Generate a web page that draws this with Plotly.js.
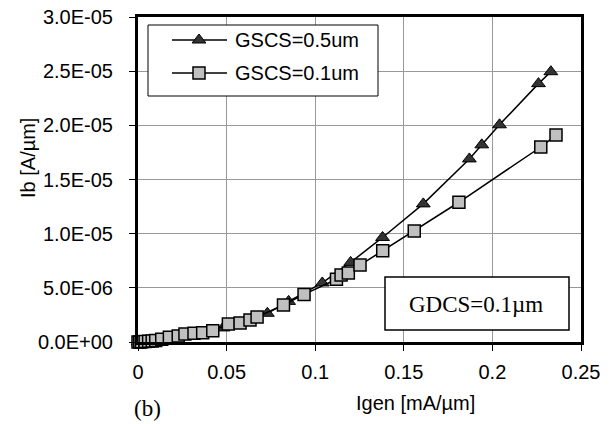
<!DOCTYPE html>
<html>
<head>
<meta charset="utf-8">
<script src="https://cdn.plot.ly/plotly-3.0.1.min.js"></script>
<style>html,body{margin:0;padding:0;background:#fff;}#chart{width:616px;height:424px;}</style>
</head>
<body>
<div id="chart"></div>
<script>
// ---- data ----
var seriesNames = ["GSCS=0.5um", "GSCS=0.1um"];
var triX = [0, 0.002, 0.004, 0.006, 0.008, 0.010, 0.013, 0.018, 0.023, 0.028, 0.034, 0.041, 0.048, 0.056, 0.064, 0.073, 0.085, 0.104, 0.120, 0.138, 0.161, 0.187, 0.194, 0.204, 0.226, 0.233];
var triY = [0, 0.02e-6, 0.04e-6, 0.06e-6, 0.09e-6, 0.12e-6, 0.2e-6, 0.35e-6, 0.5e-6, 0.65e-6, 0.85e-6, 1.05e-6, 1.3e-6, 1.65e-6, 2.1e-6, 2.65e-6, 3.75e-6, 5.45e-6, 7.35e-6, 9.65e-6, 12.75e-6, 16.9e-6, 18.2e-6, 20.05e-6, 23.85e-6, 24.95e-6];
var sqX = [0, 0.001, 0.002, 0.004, 0.006, 0.008, 0.010, 0.0134, 0.0177, 0.0227, 0.0265, 0.0316, 0.0365, 0.0422, 0.051, 0.0576, 0.0632, 0.0672, 0.0821, 0.0937, 0.112, 0.1146, 0.1187, 0.1253, 0.1381, 0.1559, 0.1811, 0.2273, 0.2359];
var sqY = [0, 0.01e-6, 0.02e-6, 0.04e-6, 0.06e-6, 0.09e-6, 0.13e-6, 0.25e-6, 0.43e-6, 0.55e-6, 0.74e-6, 0.8e-6, 0.86e-6, 1.04e-6, 1.66e-6, 1.75e-6, 2.03e-6, 2.31e-6, 3.42e-6, 4.39e-6, 5.79e-6, 6.19e-6, 6.37e-6, 7.1e-6, 8.43e-6, 10.25e-6, 12.9e-6, 18.0e-6, 19.1e-6];
var xTickVals = [0, 0.05, 0.1, 0.15, 0.2, 0.25];
var xTickText = ["0", "0.05", "0.1", "0.15", "0.2", "0.25"];
var yTickVals = [0, 5e-6, 1e-5, 1.5e-5, 2e-5, 2.5e-5, 3e-5];
var yTickText = ["0.0E+00", "5.0E-06", "1.0E-05", "1.5E-05", "2.0E-05", "2.5E-05", "3.0E-05"];
var xTitle = "Igen [mA/\u00b5m]";
var yTitle = "Ib [A/\u00b5m]";
var panelLabel = "(b)";
var noteText = "GDCS=0.1\u00b5m";

// ---- layout helpers (pixel -> paper) ----
var W = 616, H = 424, L = 138, R = 35, T = 17, B = 82;
var PW = W - L - R, PH = H - T - B;
function fx(px) { return (px - L) / PW; }
function fy(py) { return (H - B - py) / PH; }

var sans = "Arial, 'Liberation Sans', sans-serif";
var serif = "'Times New Roman', 'Liberation Serif', serif";

var traces = [
  {
    x: triX, y: triY, name: seriesNames[0], type: "scatter", mode: "lines+markers",
    line: {color: "#000", width: 1.5},
    marker: {symbol: "triangle-up", size: 12, color: "#333", line: {color: "#000", width: 1}},
    cliponaxis: false, showlegend: false
  },
  {
    x: sqX, y: sqY, name: seriesNames[1], type: "scatter", mode: "lines+markers",
    line: {color: "#000", width: 1.5},
    marker: {symbol: "square", size: 12, color: "#c0c0c0", line: {color: "#000", width: 1.5}},
    cliponaxis: false, showlegend: false
  }
];

var triPath = "M-6.93,-3 L6.93,-3 L0,6 Z";
var sqPath = "M-6,-6 L6,-6 L6,6 L-6,6 Z";

var shapes = [
  // legend box
  {type: "rect", xref: "paper", yref: "paper", x0: fx(148), x1: fx(378), y0: fy(96), y1: fy(25),
   line: {color: "#000", width: 1}, fillcolor: "#fff", layer: "above"},
  {type: "line", xref: "paper", yref: "paper", x0: fx(172), x1: fx(227), y0: fy(40), y1: fy(40),
   line: {color: "#000", width: 1.5}, layer: "above"},
  {type: "line", xref: "paper", yref: "paper", x0: fx(172), x1: fx(227), y0: fy(73), y1: fy(73),
   line: {color: "#000", width: 1.5}, layer: "above"},
  {type: "path", xref: "paper", yref: "paper", xsizemode: "pixel", ysizemode: "pixel",
   xanchor: fx(199), yanchor: fy(40), path: triPath, fillcolor: "#333", line: {color: "#000", width: 1}, layer: "above"},
  {type: "path", xref: "paper", yref: "paper", xsizemode: "pixel", ysizemode: "pixel",
   xanchor: fx(199), yanchor: fy(73), path: sqPath, fillcolor: "#c0c0c0", line: {color: "#000", width: 1.5}, layer: "above"},
  // note box
  {type: "rect", xref: "paper", yref: "paper", x0: fx(385), x1: fx(569), y0: fy(330), y1: fy(277),
   line: {color: "#000", width: 1.5}, fillcolor: "#fff", layer: "above"}
];

var annotations = [
  {text: seriesNames[0], xref: "paper", yref: "paper", x: fx(233), y: fy(40), xanchor: "left", yanchor: "middle",
   showarrow: false, font: {family: sans, size: 20, color: "#000"}},
  {text: seriesNames[1], xref: "paper", yref: "paper", x: fx(233), y: fy(73), xanchor: "left", yanchor: "middle",
   showarrow: false, font: {family: sans, size: 20, color: "#000"}},
  {text: noteText, xref: "paper", yref: "paper", x: fx(476), y: fy(304), xanchor: "center", yanchor: "middle",
   showarrow: false, font: {family: serif, size: 23, color: "#000"}},
  {text: yTitle, xref: "paper", yref: "paper", x: fx(28), y: fy(158), xanchor: "center", yanchor: "middle",
   textangle: -90, showarrow: false, font: {family: sans, size: 20, color: "#000"}},
  {text: xTitle, xref: "paper", yref: "paper", x: fx(415), y: fy(403), xanchor: "center", yanchor: "middle",
   showarrow: false, font: {family: sans, size: 20, color: "#000"}},
  {text: panelLabel, xref: "paper", yref: "paper", x: fx(132), y: fy(408), xanchor: "left", yanchor: "middle",
   showarrow: false, font: {family: serif, size: 23, color: "#000"}}
];

var layout = {
  width: W, height: H,
  margin: {l: L, r: R, t: T, b: B, pad: 0},
  paper_bgcolor: "#fff", plot_bgcolor: "#fff",
  showlegend: false,
  font: {family: sans, size: 20, color: "#000"},
  xaxis: {
    range: [0, 0.25], tickvals: xTickVals, ticktext: xTickText,
    showgrid: true, gridcolor: "#999", gridwidth: 1, zeroline: false,
    showline: true, mirror: true, linecolor: "#000", linewidth: 3,
    ticks: "outside", ticklen: 6, tickwidth: 1, tickcolor: "#000",
    ticklabelstandoff: 4,
    tickfont: {family: sans, size: 20, color: "#000"}
  },
  yaxis: {
    range: [0, 3e-5], tickvals: yTickVals, ticktext: yTickText,
    showgrid: true, gridcolor: "#999", gridwidth: 1, zeroline: false,
    showline: true, mirror: true, linecolor: "#000", linewidth: 3,
    ticks: "outside", ticklen: 6, tickwidth: 1, tickcolor: "#000",
    ticklabelstandoff: 12,
    tickfont: {family: sans, size: 20, color: "#000"}
  },
  shapes: shapes,
  annotations: annotations
};

Plotly.newPlot("chart", traces, layout, {staticPlot: true, displayModeBar: false});
</script>
</body>
</html>
